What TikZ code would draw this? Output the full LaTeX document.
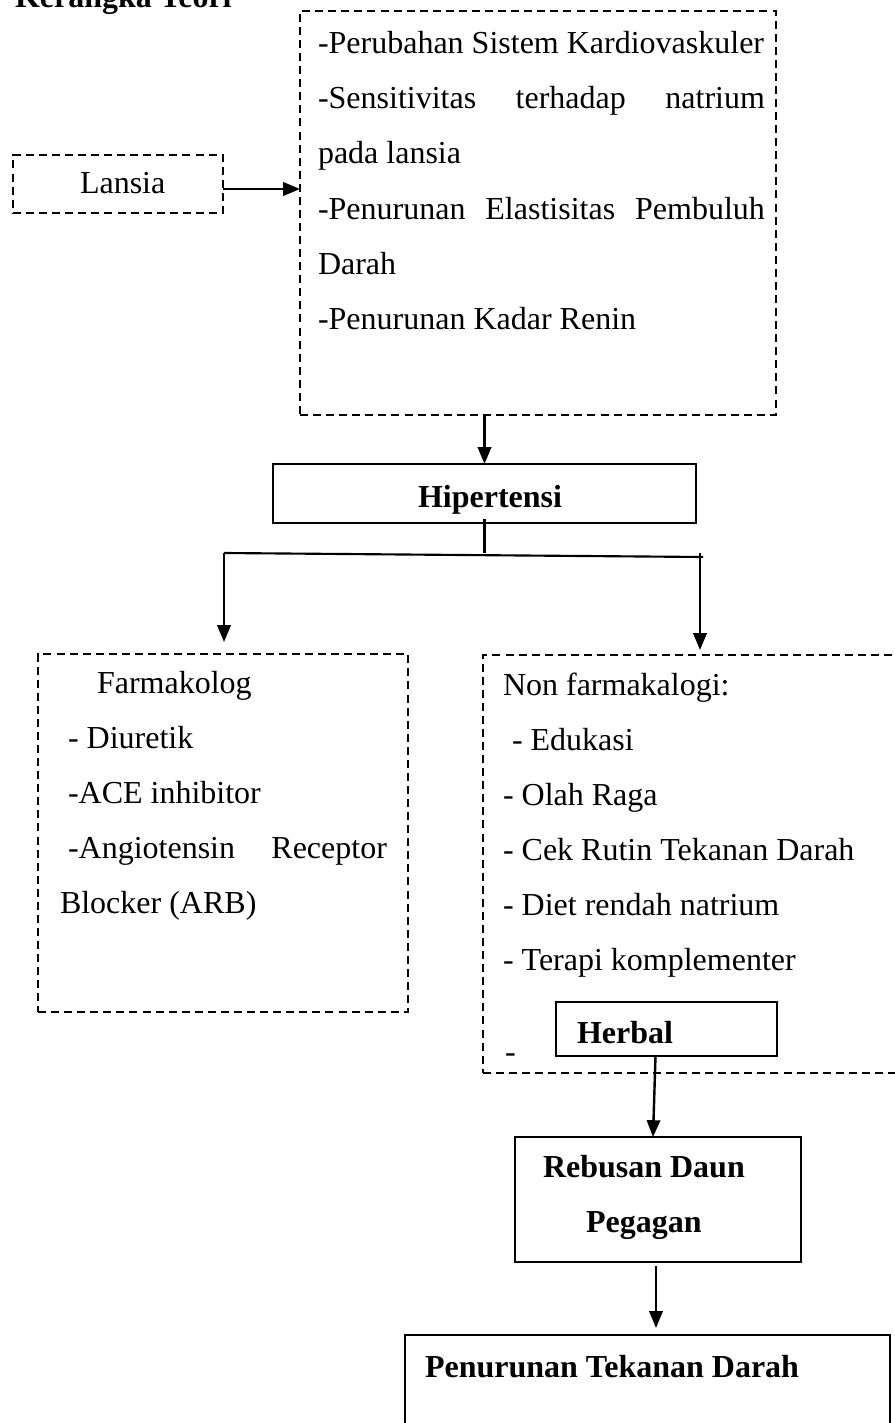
\documentclass[tikz,border=0pt]{standalone}
\usepackage{fontspec}
\setmainfont{Liberation Serif}
\usetikzlibrary{arrows.meta,calc}
\tikzset{
  every node/.style={inner sep=0pt,outer sep=0pt},
  dbox/.style={draw,line width=0.7pt,dash pattern=on 3pt off 1.9pt,rectangle,anchor=north west},
  sbox/.style={draw,line width=0.7pt,rectangle,anchor=north west},
  txt/.style={anchor=base west,font=\fontsize{12}{14}\selectfont},
  btxt/.style={anchor=base west,font=\fontsize{12}{14}\selectfont\bfseries},
  arr/.style={line width=0.9pt,-{Triangle[length=6.3pt,width=5pt]}},
  ln/.style={line width=0.8pt},
}
\begin{document}
\begin{tikzpicture}[x=0.375pt,y=-0.375pt]
\clip (0,0) rectangle (895,1423);
% title (cut off at the top)
\node[btxt] (title) at (15,8) {Kerangka Teori};
% Lansia
\node[dbox,minimum width={210*0.375pt},minimum height={58*0.375pt}] (L) at (13,155) {};
\node[txt] (Lt) at (80,194) {Lansia};
% top box
\node[dbox,minimum width={476*0.375pt},minimum height={404*0.375pt}] (T) at (300,11) {};
\node[txt] (t1) at (318,54) {-Perubahan Sistem Kardiovaskuler};
\node[txt] (t2) at (318,109) {\makebox[167.6pt][s]{-Sensitivitas terhadap natrium}};
\node[txt] (t3) at (318,164) {pada lansia};
\node[txt] (t4) at (318,219) {\makebox[167.6pt][s]{-Penurunan Elastisitas Pembuluh}};
\node[txt] (t5) at (318,274) {Darah};
\node[txt] (t6) at (318,329) {-Penurunan Kadar Renin};
% Hipertensi
\node[sbox,minimum width={423*0.375pt},minimum height={59*0.375pt}] (H) at (273,464) {};
\node[btxt] (Ht) at (418,507) {Hipertensi};
% Farmakolog box
\node[dbox,minimum width={370*0.375pt},minimum height={358*0.375pt}] (F) at (38,654) {};
\node[txt] (f1) at (97,693) {Farmakolog};
\node[txt] (f2) at (68,748) {- Diuretik};
\node[txt] (f3) at (68,803) {-ACE inhibitor};
\node[txt] (f4) at (68,858) {\makebox[119.6pt][s]{-Angiotensin Receptor}};
\node[txt] (f5) at (60,913) {Blocker (ARB)};
% Non farmakologi box
\node[dbox,minimum width={440*0.375pt},minimum height={418*0.375pt}] (N) at (483,655) {};
\node[txt] (n1) at (503,695) {Non farmakalogi:};
\node[txt] (n2) at (512,750) {- Edukasi};
\node[txt] (n3) at (503,805) {- Olah Raga};
\node[txt] (n4) at (503,860) {- Cek Rutin Tekanan Darah};
\node[txt] (n5) at (503,915) {- Diet rendah natrium};
\node[txt] (n6) at (503,970) {- Terapi komplementer};
\node[txt] (n7) at (505,1062) {-};
% Herbal
\node[sbox,fill=white,minimum width={221*0.375pt},minimum height={54*0.375pt}] (Hb) at (556,1002) {};
\node[btxt] (Hbt) at (577,1043) {Herbal};
% Rebusan
\node[sbox,minimum width={286*0.375pt},minimum height={125*0.375pt}] (R) at (515,1137) {};
\node[btxt] (r1) at (543,1177) {Rebusan Daun};
\node[btxt] (r2) at (586,1232) {Pegagan};
% Penurunan Tekanan Darah
\node[sbox,minimum width={485*0.375pt},minimum height={120*0.375pt}] (P) at (405,1335) {};
\node[btxt] (p1) at (425,1377) {Penurunan Tekanan Darah};
% connectors
\draw[arr] ([yshift={-5*0.375pt}]L.east) -- ([yshift={-5*0.375pt}]L.east -| T.west);
\draw[arr] (H.north |- T.south) -- (H.north);
\coordinate (bl) at (224,553);
\coordinate (bre) at (703,557);
\coordinate (brt) at (700,553);
\coordinate (ftip) at (224,642);
\coordinate (ntip) at (700,650);
\draw[ln] ([yshift={4*0.375pt}]H.south) -- (H.south |- bl);
\draw[ln] (bl) -- (bre);
\draw[arr] (bl) -- (ftip);
\draw[arr] (brt) -- (ntip);
\draw[arr] ([xshift={-11*0.375pt}]Hb.south) -- ([xshift={-5*0.375pt}]R.north);
\coordinate (ptip) at (656,1328);
\draw[arr] ([xshift={-2*0.375pt},yshift={-4*0.375pt}]R.south) -- (ptip);
\end{tikzpicture}
\end{document}
